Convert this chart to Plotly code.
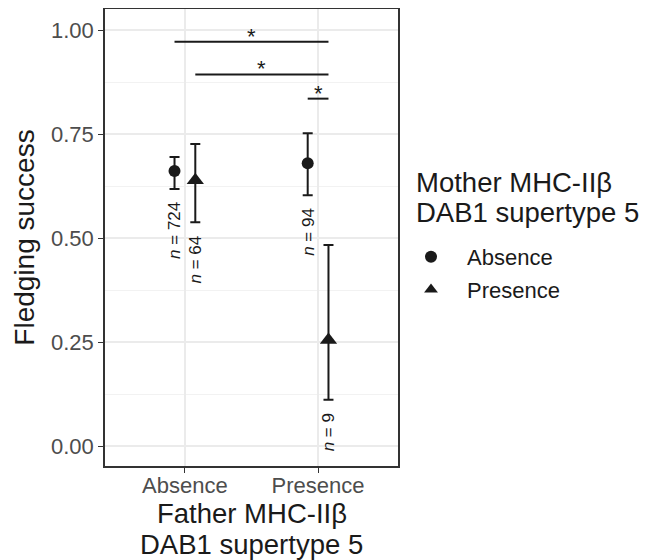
import plotly.graph_objects as go

# Data
father_categories = ["Absence", "Presence"]
mother_groups = ["Absence", "Presence"]
success_mother_absence = [0.661, 0.680]
lower_mother_absence = [0.618, 0.603]
upper_mother_absence = [0.695, 0.752]
success_mother_presence = [0.639, 0.255]
lower_mother_presence = [0.538, 0.111]
upper_mother_presence = [0.726, 0.483]
n_mother_absence = [724, 94]
n_mother_presence = [64, 9]

# significance brackets (x from, x to, y) and star positions
sig_x0 = [0.922, 1.078, 1.922]
sig_x1 = [2.078, 2.078, 2.078]
sig_y = [0.972, 0.893, 0.835]
star_x = [1.50, 1.578, 2.0]
star_y = [0.995, 0.918, 0.858]

x_title_lines = ["Father MHC-IIβ", "DAB1 supertype 5"]
legend_title_lines = ["Mother MHC-IIβ", "DAB1 supertype 5"]

dodge = 0.078
cat_pos = [1, 2]
ink = "#1a1a1a"

W, H = 641, 552  # page body has an 8px margin

fig = go.Figure()

def add_group(xs, ys, lo, hi, sym, size, name):
    fig.add_trace(go.Scatter(
        x=xs, y=ys, mode="markers", name=name, legendgroup=name,
        marker=dict(symbol=sym, size=size, color=ink),
        error_y=dict(type="data", symmetric=False,
                     array=[h - y for h, y in zip(hi, ys)],
                     arrayminus=[y - l for l, y in zip(lo, ys)],
                     color=ink, thickness=2, width=5),
    ))

xa = [c - dodge for c in cat_pos]
xp = [c + dodge for c in cat_pos]
add_group(xa, success_mother_absence, lower_mother_absence, upper_mother_absence, "circle", 12, mother_groups[0])
add_group(xp, success_mother_presence, lower_mother_presence, upper_mother_presence, "triangle-up", 15, mother_groups[1])

annotations = []
for xs, lo, ns in [(xa, lower_mother_absence, n_mother_absence), (xp, lower_mother_presence, n_mother_presence)]:
    for x, l, n in zip(xs, lo, ns):
        annotations.append(dict(x=x, y=l, xref="x", yref="y", text=f"<i>n</i> = {n}",
                                textangle=-90, showarrow=False, yanchor="top", xanchor="center",
                                yshift=-11, font=dict(size=17, color=ink)))
for x, y in zip(star_x, star_y):
    annotations.append(dict(x=x, y=y, xref="x", yref="y", text="*", showarrow=False,
                            font=dict(size=22, color=ink), yanchor="middle", yshift=-4))

# legend title, two tightly spaced lines as in the reference
for txt, top in zip(legend_title_lines, [157, 187]):
    annotations.append(dict(x=406 / W, y=1 - top / H, xref="paper", yref="paper", text=txt,
                            showarrow=False, xanchor="left", yanchor="top", font=dict(size=27.5, color=ink)))
# x axis title, two lines
for txt, top in zip(x_title_lines, [487.5, 519]):
    annotations.append(dict(x=(97 + 390) / 2 / W, y=1 - top / H, xref="paper", yref="paper", text=txt,
                            showarrow=False, xanchor="center", yanchor="top", font=dict(size=27.5, color=ink)))

shapes = []
for x0, x1, y in zip(sig_x0, sig_x1, sig_y):
    shapes.append(dict(type="line", xref="x", yref="y", x0=x0, x1=x1, y0=y, y1=y,
                       line=dict(color=ink, width=2)))

fig.update_layout(
    width=W, height=H,
    margin=dict(l=0, r=0, t=0, b=0, autoexpand=False),
    paper_bgcolor="white", plot_bgcolor="white",
    font=dict(family="Liberation Sans, Arial, sans-serif", color=ink),
    annotations=annotations, shapes=shapes,
    legend=dict(
        font=dict(size=22, color=ink), bgcolor="rgba(0,0,0,0)",
        x=387 / W, xanchor="left", y=1 - 228 / H, yanchor="top",
        itemsizing="constant", tracegroupgap=1, traceorder="grouped", itemwidth=62,
    ),
    xaxis=dict(
        domain=[97 / W, 390 / W], automargin=False,
        range=[0.4, 2.6], tickmode="array", tickvals=cat_pos, ticktext=father_categories,
        showgrid=True, gridcolor="#ebebeb", gridwidth=1.5, zeroline=False,
        ticks="outside", ticklen=5, tickcolor="#333333", tickwidth=1, ticklabelstandoff=-6,
        tickfont=dict(size=22, color="#4d4d4d"),
        showline=True, linecolor="#333333", linewidth=1.5, mirror=True,
    ),
    yaxis=dict(
        domain=[94 / H, (H - 1) / H], automargin=False,
        range=[-0.048, 1.0505], tickmode="array", tickvals=[0, 0.25, 0.5, 0.75, 1.0],
        ticktext=["0.00", "0.25", "0.50", "0.75", "1.00"],
        showgrid=True, gridcolor="#ebebeb", gridwidth=1.5, zeroline=False,
        minor=dict(tickvals=[0.125, 0.375, 0.625, 0.875], showgrid=True, gridcolor="#f2f2f2", gridwidth=0.8),
        ticks="outside", ticklen=5, tickcolor="#333333", tickwidth=1,
        tickfont=dict(size=22, color="#4d4d4d"),
        title=dict(text="Fledging success", font=dict(size=28, color=ink), standoff=8),
        showline=True, linecolor="#333333", linewidth=1.5, mirror=True,
    ),
)

fig.write_html("out.html")
